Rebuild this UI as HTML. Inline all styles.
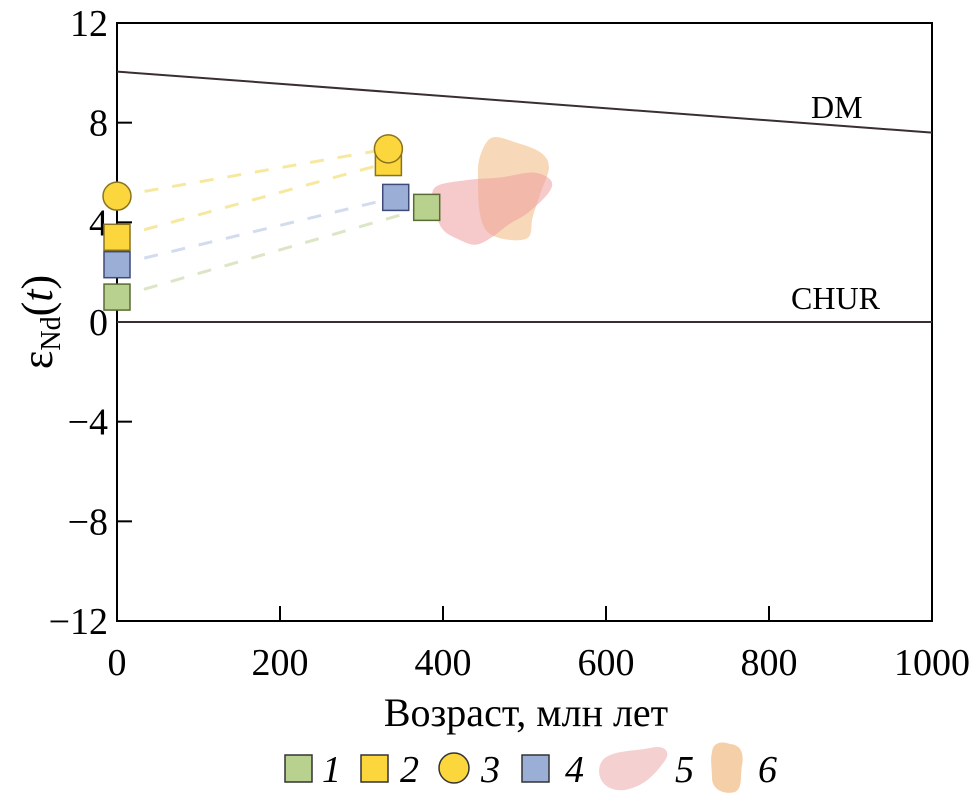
<!DOCTYPE html>
<html><head><meta charset="utf-8"><style>
html,body{margin:0;padding:0;background:#fff;}
svg{display:block;font-family:"Liberation Serif",serif;}
</style></head><body>
<svg id="chart" width="972" height="795" viewBox="0 0 972 795" xmlns="http://www.w3.org/2000/svg"></svg>
<script>
// ---- data ----
const xTicks = [0,200,400,600,800,1000];
const yTicks = [12,8,4,0,-4,-8,-12];
const yTickLabels = ["12","8","4","0","\u22124","\u22128","\u221212"];
const dmLine = [[0,10.05],[1000,7.6]];
const churLine = [[0,0],[1000,0]];
const s1 = [[0,1.0],[380,4.6]];
const s2 = [[0,3.4],[333,6.4]];
const s3 = [[0,5.05],[333,6.95]];
const s4 = [[0,2.3],[342,5.0]];
const field5 = [[390,5.4],[430,5.7],[470,5.8],[510,6.0],[532,5.7],[530,5.2],[505,4.4],[480,3.9],[460,3.4],[440,3.1],[420,3.3],[400,3.7],[390,4.5]];
const field6 = [[445,6.6],[460,7.4],[490,7.2],[520,6.8],[530,6.2],[520,5.2],[510,4.2],[505,3.4],[480,3.3],[455,3.6],[445,4.4],[443,5.6]];

// ---- axes ----
const X0=117,X1=932,Y0=23,Y1=621;
const sx=v=>X0+(v-0)/(1000-0)*(X1-X0);
const sy=v=>Y1-(v-(-12))/(24)*(Y1-Y0);
const NS="http://www.w3.org/2000/svg";
const svg=document.getElementById('chart');
function mk(tag,attrs,parent){const e=document.createElementNS(NS,tag);for(const k in attrs)e.setAttribute(k,attrs[k]);(parent||svg).appendChild(e);return e;}

function blob(pts){
  const p=pts.map(d=>[sx(d[0]),sy(d[1])]);const n=p.length;let s=`M${p[0][0]},${p[0][1]}`;
  for(let i=0;i<n;i++){const a=p[(i-1+n)%n],b=p[i],c=p[(i+1)%n],d=p[(i+2)%n];
    s+=` C${b[0]+(c[0]-a[0])/6},${b[1]+(c[1]-a[1])/6} ${c[0]-(d[0]-b[0])/6},${c[1]-(d[1]-b[1])/6} ${c[0]},${c[1]}`;}
  return s+'Z';
}
let e=mk('path',{d:blob(field6),fill:'#f5cfa8','fill-opacity':0.8});


e=mk('path',{d:blob(field5),fill:'#ee9f9f','fill-opacity':0.55});



e=mk('rect',{x:X0,y:Y0,width:X1-X0,height:Y1-Y0,fill:'none',stroke:'#000','stroke-width':2});



xTicks.forEach(t=>{
  let l=mk('line',{x1:sx(t),x2:sx(t),y1:Y1,y2:Y1-15,stroke:'#000','stroke-width':2});
  
  
  let tx=mk('text',{x:sx(t),y:Y1+54,'text-anchor':'middle','font-size':38});tx.textContent=t;
  
  
});
yTicks.forEach((t,i)=>{
  let l=mk('line',{x1:X0,x2:X0+15,y1:sy(t),y2:sy(t),stroke:'#000','stroke-width':2});
  
  
  let tx=mk('text',{x:X0-9,y:sy(t)+13,'text-anchor':'end','font-size':38});tx.textContent=yTickLabels[i];
  
  
});

e=mk('line',{x1:sx(dmLine[0][0]),y1:sy(dmLine[0][1]),x2:sx(dmLine[1][0]),y2:sy(dmLine[1][1]),stroke:'#3a2e33','stroke-width':2});


e=mk('line',{x1:sx(churLine[0][0]),y1:sy(churLine[0][1]),x2:sx(churLine[1][0]),y2:sy(churLine[1][1]),stroke:'#3a2e33','stroke-width':2});


e=mk('text',{x:811,y:118,'font-size':32});e.textContent='DM';


e=mk('text',{x:791,y:309,'font-size':32});e.textContent='CHUR';



const series=[
  {d:s1,fill:'#b9d18f',stroke:'#5a6b35',dash:'#dbe6c6',shape:'sq',name:'series-1'},
  {d:s2,fill:'#fbd63c',stroke:'#8a7320',dash:'#f7e8a0',shape:'sq',name:'series-2'},
  {d:s4,fill:'#9aaed6',stroke:'#3f4a7a',dash:'#d3dcee',shape:'sq',name:'series-4'},
  {d:s3,fill:'#fbd63c',stroke:'#8a7320',dash:'#f7e8a0',shape:'ci',name:'series-3'}
];
series.forEach(s=>{
  let l=mk('line',{x1:sx(s.d[0][0]),y1:sy(s.d[0][1]),x2:sx(s.d[1][0]),y2:sy(s.d[1][1]),stroke:s.dash,'stroke-width':3,'stroke-dasharray':'14 14'});
  
  
});
series.forEach(s=>{
  s.d.forEach(p=>{
    let m;
    if(s.shape==='sq') m=mk('rect',{x:sx(p[0])-13,y:sy(p[1])-13,width:26,height:26,fill:s.fill,stroke:s.stroke,'stroke-width':1.5});
    else m=mk('circle',{cx:sx(p[0]),cy:sy(p[1]),r:14,fill:s.fill,stroke:s.stroke,'stroke-width':1.5});
    
    
  });
});

e=mk('text',{x:526,y:726,'text-anchor':'middle','font-size':40});e.textContent='Возраст, млн лет';


e=mk('text',{transform:'translate(52,322) rotate(-90)','text-anchor':'middle','font-size':44});
e.innerHTML='ε<tspan font-size="28" dy="8">Nd</tspan><tspan dy="-8">(</tspan><tspan font-style="italic">t</tspan>)';



const lg=mk('g',{});


function lab(x,t){let tx=mk('text',{x:x,y:782,'font-size':38,'font-style':'italic'},lg);tx.textContent=t;
  
  }
e=mk('rect',{x:285,y:755,width:27,height:27,fill:'#b9d18f',stroke:'#333','stroke-width':1.5},lg);

lab(322,'1');
e=mk('rect',{x:361,y:755,width:27,height:27,fill:'#fbd63c',stroke:'#333','stroke-width':1.5},lg);

lab(400,'2');
e=mk('circle',{cx:454,cy:768,r:15,fill:'#fbd63c',stroke:'#333','stroke-width':1.5},lg);

lab(481,'3');
e=mk('rect',{x:522,y:755,width:27,height:27,fill:'#9aaed6',stroke:'#333','stroke-width':1.5},lg);

lab(565,'4');
e=mk('path',{d:'M600,765 C605,750 630,752 650,748 C665,744 672,752 664,762 C655,774 645,786 625,790 C605,792 596,778 600,765Z',fill:'#f4d0d0'},lg);

lab(675,'5');
e=mk('path',{d:'M712,752 C713,742 722,741 730,744 C742,745 744,755 742,765 C740,775 743,788 735,792 C725,795 712,790 712,778 C712,768 710,760 712,752Z',fill:'#f5cfa8'},lg);

lab(758,'6');
</script>
</body></html>
